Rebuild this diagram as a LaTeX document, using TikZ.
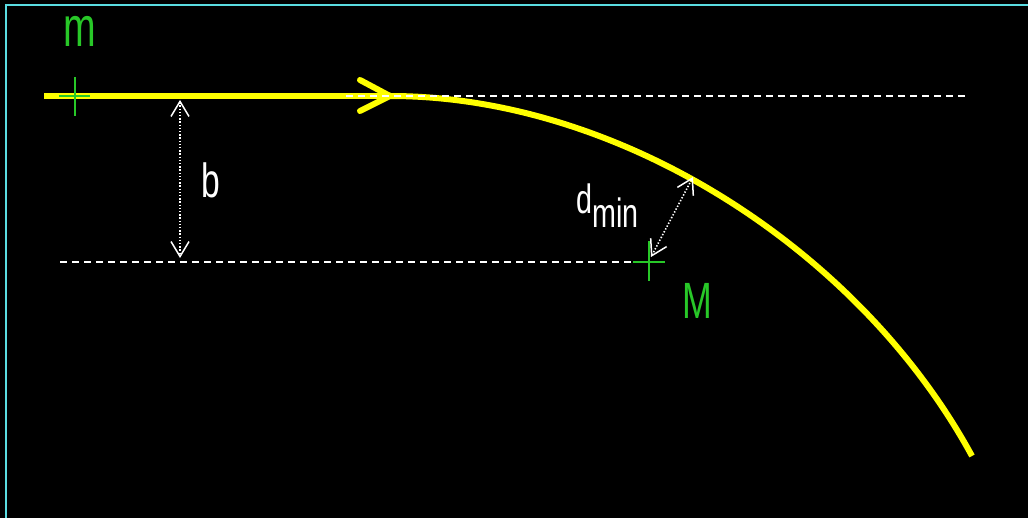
\documentclass[tikz,border=0pt]{standalone}
\usepackage{fontspec}
\setmainfont{Liberation Sans}[FakeStretch=0.7]
\usetikzlibrary{arrows.meta,calc}
\definecolor{frame}{RGB}{90,220,225}
\definecolor{grn}{RGB}{40,200,40}
\definecolor{yel}{RGB}{255,255,0}
\tikzset{
  traj/.style={yel, line width=6pt},
  guide/.style={white, line width=1.3pt, dash pattern=on 7pt off 5pt},
  measure/.style={white, line width=1.6pt, dash pattern=on 1.4pt off 1.8pt,
    {Straight Barb[length=15pt,width=18pt,line width=1.5pt]}-{Straight Barb[length=15pt,width=18pt,line width=1.5pt]}},
  crossline/.style={grn, line width=2pt},
  lbl/.style={inner sep=0pt, text=white},
}
\begin{document}
\begin{tikzpicture}[x=1pt,y=-1pt]
\fill[black] (0,0) rectangle (1028,518);
\useasboundingbox (0,0) rectangle (1028,518);
% frame
\draw[frame, line width=2.6pt] (6,518) -- (6,5) -- (1028,5);
% coordinates
\coordinate (start) at (44,96);
\coordinate (tip) at (390,96);
\coordinate (end) at (972,456);
\coordinate (m0) at (75,96);
\coordinate (M0) at (649,262);
\coordinate (b1) at (180,100);
\coordinate (b2) at (180,258);
\coordinate (d1) at (651,257);
\coordinate (d2) at (693,177);
\coordinate (g1a) at (346,96);
\coordinate (g1b) at (968,96);
\coordinate (g2a) at (60,262);
\coordinate (g2b) at (640,262);
% trajectory
\draw[traj] (start) -- (tip);
\draw[traj, line cap=round] (tip) ++(-30,-16) -- (tip) -- ++(-30,15);
\draw[traj] (tip) .. controls (620,96) and (860,250) .. (end);
% guides
\draw[guide] (g1a) -- (g1b);
\draw[guide] (g2a) -- (g2b);
% measures
\draw[measure] (b1) -- (b2);
\draw[measure] (d1) -- (d2);
% crosses
\draw[crossline] ($(m0)+(0,-19)$) -- ($(m0)+(0,20)$);
\draw[crossline] ($(m0)+(-16,0)$) -- ($(m0)+(15,0)$);
\draw[crossline] ($(M0)+(0,-21)$) -- ($(M0)+(0,19)$);
\draw[crossline] ($(M0)+(-16,0)$) -- ($(M0)+(16,0)$);
% labels
\node[lbl, text=grn, anchor=base, font=\fontsize{56}{60}\selectfont] (mlab) at (80,47) {m};
\node[lbl, anchor=base west, font=\fontsize{48}{50}\selectfont] (blab) at (201,198) {b};
\node[lbl, text=grn, anchor=base west, font=\fontsize{51}{55}\selectfont] (Mlab) at (682,319) {M};
\node[lbl, anchor=base west, font=\fontsize{41}{45}\selectfont] (dlab) at (576,214) {d\raisebox{-14pt}{min}};
\end{tikzpicture}
\end{document}
